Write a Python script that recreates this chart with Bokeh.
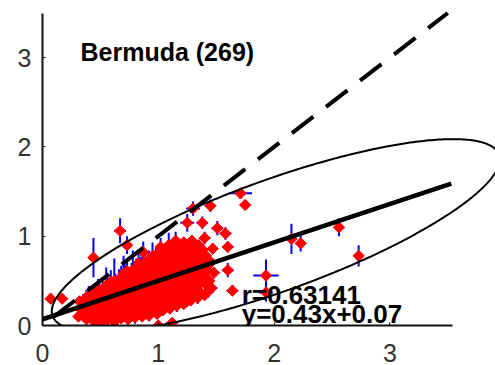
import numpy as np
from bokeh.plotting import figure
from bokeh.models import ColumnDataSource, Range1d, FixedTicker, Label
from bokeh.embed import file_html
from bokeh.resources import INLINE

# ---- summary values -------------------------------------------------------
site = "Bermuda"
n_obs = 269
r_value = 0.63141
slope = 0.43
intercept = 0.07
fit_x = [0.0, 3.53]          # extent of the fitted line
one_to_one = [0.0, 3.5]      # extent of the 1:1 line

x_ticks = [0, 1, 2, 3]
y_ticks = [0, 1, 2, 3]

# ---- isolated observations (x, y, errors) --------------------------------
out_x = [0.07, 0.17, 0.44, 0.67, 0.73, 0.87, 1.09, 1.25, 1.30, 1.38, 1.45, 1.51, 1.58, 1.60,
         1.71, 1.75, 1.48, 1.60, 1.64, 1.34, 1.93, 1.93, 2.15, 2.23, 2.56, 2.73, 0.99, 1.00, 1.12,
         0.55, 0.62, 0.70, 0.78, 0.83, 0.95, 0.40, 1.02, 1.15]
out_y = [0.30, 0.30, 0.76, 1.06, 0.90, 0.82, 0.90, 1.15, 1.31, 1.15, 1.34, 1.09, 1.03, 0.88,
         1.48, 1.35, 0.59, 0.62, 0.39, 0.50, 0.56, 0.37, 0.97, 0.92, 1.10, 0.78, 0.13, 0.00, 0.03,
         0.45, 0.50, 0.58, 0.62, 0.70, 0.78, 0.32, 0.88, 0.95]
out_xe = [0.03, 0.04, 0.03, 0.05, 0.04, 0.04, 0.06, 0.06, 0.06, 0.05, 0.05, 0.05, 0.05, 0.05,
          0.10, 0.04, 0.05, 0.05, 0.05, 0.04, 0.11, 0.06, 0.03, 0.04, 0.04, 0.04, 0.05, 0.05, 0.05,
          0.03, 0.03, 0.03, 0.03, 0.03, 0.04, 0.03, 0.04, 0.05]
out_ye = [0.06, 0.05, 0.22, 0.14, 0.10, 0.12, 0.14, 0.10, 0.08, 0.07, 0.07, 0.08, 0.07, 0.06,
          0.06, 0.05, 0.06, 0.08, 0.06, 0.06, 0.18, 0.10, 0.17, 0.09, 0.10, 0.12, 0.05, 0.04, 0.04,
          0.20, 0.25, 0.20, 0.22, 0.15, 0.15, 0.12, 0.10, 0.10]

# ---- dense cloud of observations (first pass) -----------------------------
blob_x = [0.31, 0.33, 0.32,
          0.38, 0.37, 0.39, 0.38,
          0.44, 0.45, 0.43, 0.44, 0.45,
          0.50, 0.49, 0.51, 0.50, 0.49,
          0.56, 0.57, 0.55, 0.56, 0.57, 0.56,
          0.62, 0.61, 0.63, 0.62, 0.61, 0.63,
          0.68, 0.69, 0.67, 0.68, 0.69, 0.67, 0.68,
          0.74, 0.73, 0.75, 0.74, 0.73, 0.75, 0.74, 0.73,
          0.80, 0.81, 0.79, 0.80, 0.81, 0.79, 0.80, 0.81,
          0.86, 0.85, 0.87, 0.86, 0.85, 0.87, 0.86, 0.85,
          0.92, 0.93, 0.91, 0.92, 0.93, 0.91, 0.92, 0.93, 0.92,
          0.98, 0.97, 0.99, 0.98, 0.97, 0.99, 0.98, 0.97, 0.98,
          1.04, 1.05, 1.03, 1.04, 1.05, 1.03, 1.04, 1.05, 1.04,
          1.10, 1.09, 1.11, 1.10, 1.09, 1.11, 1.10, 1.09, 1.10,
          1.16, 1.17, 1.15, 1.16, 1.17, 1.15, 1.16, 1.17, 1.16,
          1.22, 1.21, 1.23, 1.22, 1.21, 1.23, 1.22, 1.21, 1.22,
          1.28, 1.29, 1.27, 1.28, 1.29, 1.27, 1.28, 1.29,
          1.34, 1.33, 1.35, 1.34, 1.33, 1.35,
          1.40, 1.41, 1.39, 1.40, 1.41, 1.40,
          1.46, 1.45, 1.47]
blob_y = [0.10, 0.18, 0.27,
          0.07, 0.15, 0.23, 0.31,
          0.05, 0.13, 0.21, 0.29, 0.36,
          0.03, 0.12, 0.20, 0.28, 0.37,
          0.06, 0.14, 0.22, 0.30, 0.38, 0.44,
          0.04, 0.13, 0.21, 0.29, 0.37, 0.46,
          0.08, 0.16, 0.24, 0.32, 0.40, 0.48, 0.54,
          0.07, 0.15, 0.23, 0.31, 0.39, 0.47, 0.55, 0.61,
          0.09, 0.17, 0.25, 0.33, 0.41, 0.49, 0.57, 0.64,
          0.10, 0.18, 0.26, 0.34, 0.42, 0.50, 0.58, 0.67,
          0.11, 0.19, 0.27, 0.35, 0.43, 0.51, 0.59, 0.67, 0.74,
          0.15, 0.22, 0.30, 0.38, 0.46, 0.54, 0.62, 0.70, 0.79,
          0.17, 0.25, 0.33, 0.41, 0.49, 0.57, 0.65, 0.73, 0.83,
          0.19, 0.27, 0.35, 0.43, 0.51, 0.59, 0.67, 0.76, 0.86,
          0.22, 0.30, 0.38, 0.46, 0.54, 0.62, 0.70, 0.80, 0.90,
          0.24, 0.32, 0.40, 0.48, 0.56, 0.64, 0.72, 0.82, 0.93,
          0.28, 0.36, 0.44, 0.52, 0.60, 0.70, 0.80, 0.95,
          0.31, 0.40, 0.58, 0.68, 0.78, 0.90,
          0.34, 0.46, 0.56, 0.66, 0.78, 0.98,
          0.42, 0.70, 0.86]
blob_xe = [0.03, 0.04, 0.03,
           0.04, 0.03, 0.05, 0.03,
           0.03, 0.05, 0.04, 0.03, 0.04,
           0.04, 0.03, 0.05, 0.04, 0.03,
           0.05, 0.04, 0.03, 0.05, 0.04, 0.03,
           0.04, 0.05, 0.03, 0.04, 0.05, 0.03,
           0.03, 0.04, 0.05, 0.03, 0.04, 0.05, 0.03,
           0.05, 0.03, 0.04, 0.05, 0.03, 0.04, 0.05, 0.03,
           0.04, 0.05, 0.03, 0.04, 0.05, 0.03, 0.04, 0.05,
           0.03, 0.04, 0.05, 0.03, 0.04, 0.05, 0.03, 0.04,
           0.05, 0.03, 0.04, 0.05, 0.03, 0.04, 0.05, 0.03, 0.04,
           0.04, 0.05, 0.03, 0.04, 0.05, 0.03, 0.04, 0.05, 0.03,
           0.03, 0.04, 0.05, 0.03, 0.04, 0.05, 0.03, 0.04, 0.05,
           0.05, 0.03, 0.04, 0.05, 0.03, 0.04, 0.05, 0.03, 0.04,
           0.04, 0.05, 0.03, 0.04, 0.05, 0.03, 0.04, 0.05, 0.03,
           0.03, 0.04, 0.05, 0.03, 0.04, 0.05, 0.03, 0.04, 0.05,
           0.05, 0.03, 0.04, 0.05, 0.03, 0.04, 0.05, 0.03,
           0.04, 0.05, 0.03, 0.04, 0.05, 0.03,
           0.03, 0.04, 0.05, 0.03, 0.04, 0.05,
           0.05, 0.03, 0.04]
blob_ye = [0.05, 0.07, 0.06,
           0.06, 0.05, 0.08, 0.09,
           0.07, 0.06, 0.05, 0.08, 0.10,
           0.05, 0.07, 0.06, 0.09, 0.12,
           0.06, 0.05, 0.08, 0.07, 0.10, 0.14,
           0.07, 0.06, 0.05, 0.08, 0.09, 0.12,
           0.05, 0.08, 0.06, 0.07, 0.09, 0.10, 0.13,
           0.06, 0.07, 0.05, 0.08, 0.06, 0.09, 0.10, 0.12,
           0.07, 0.05, 0.08, 0.06, 0.07, 0.09, 0.08, 0.11,
           0.05, 0.06, 0.07, 0.08, 0.05, 0.09, 0.07, 0.10,
           0.06, 0.07, 0.05, 0.08, 0.06, 0.07, 0.09, 0.08, 0.10,
           0.07, 0.05, 0.06, 0.08, 0.07, 0.05, 0.09, 0.08, 0.09,
           0.05, 0.08, 0.06, 0.07, 0.05, 0.08, 0.06, 0.09, 0.08,
           0.06, 0.07, 0.05, 0.08, 0.06, 0.07, 0.09, 0.08, 0.07,
           0.07, 0.05, 0.08, 0.06, 0.07, 0.05, 0.08, 0.09, 0.08,
           0.05, 0.06, 0.07, 0.08, 0.05, 0.06, 0.09, 0.07, 0.06,
           0.06, 0.08, 0.05, 0.07, 0.06, 0.08, 0.07, 0.06,
           0.07, 0.05, 0.08, 0.06, 0.07, 0.06,
           0.05, 0.07, 0.06, 0.08, 0.06, 0.07,
           0.06, 0.07, 0.06]

# ---- dense cloud of observations (in-between points) ----------------------
fill_x = [0.35, 0.36, 0.35,
          0.41, 0.42, 0.41, 0.40,
          0.47, 0.48, 0.46, 0.47, 0.48,
          0.53, 0.52, 0.54, 0.53, 0.52,
          0.59, 0.60, 0.58, 0.59, 0.60, 0.59,
          0.65, 0.64, 0.66, 0.65, 0.64, 0.66,
          0.71, 0.72, 0.70, 0.71, 0.72, 0.70, 0.71,
          0.77, 0.76, 0.78, 0.77, 0.76, 0.78, 0.77,
          0.83, 0.84, 0.82, 0.83, 0.84, 0.82, 0.83,
          0.89, 0.88, 0.90, 0.89, 0.88, 0.90, 0.89, 0.88,
          0.95, 0.96, 0.94, 0.95, 0.96, 0.94, 0.95, 0.96,
          1.01, 1.00, 1.02, 1.01, 1.00, 1.02, 1.01, 1.00,
          1.07, 1.08, 1.06, 1.07, 1.08, 1.06, 1.07, 1.08,
          1.13, 1.12, 1.14, 1.13, 1.12, 1.14, 1.13, 1.12,
          1.19, 1.20, 1.18, 1.19, 1.20, 1.18, 1.19, 1.20,
          1.25, 1.24, 1.26, 1.25, 1.24, 1.26, 1.25, 1.24,
          1.31, 1.32, 1.30, 1.31, 1.32, 1.30, 1.31,
          1.37, 1.36, 1.38, 1.37, 1.36, 1.38,
          1.43, 1.44, 1.42, 1.43]
fill_y = [0.11, 0.19, 0.27,
          0.10, 0.18, 0.26, 0.34,
          0.08, 0.16, 0.24, 0.32, 0.40,
          0.07, 0.16, 0.24, 0.33, 0.41,
          0.09, 0.18, 0.26, 0.34, 0.42, 0.49,
          0.10, 0.17, 0.25, 0.33, 0.42, 0.51,
          0.11, 0.20, 0.28, 0.36, 0.44, 0.52, 0.58,
          0.11, 0.19, 0.27, 0.35, 0.43, 0.51, 0.58,
          0.13, 0.21, 0.29, 0.37, 0.45, 0.53, 0.61,
          0.14, 0.22, 0.30, 0.38, 0.46, 0.54, 0.63, 0.70,
          0.16, 0.23, 0.31, 0.39, 0.47, 0.55, 0.63, 0.72,
          0.19, 0.26, 0.34, 0.42, 0.50, 0.58, 0.66, 0.75,
          0.21, 0.29, 0.37, 0.45, 0.53, 0.61, 0.69, 0.79,
          0.23, 0.31, 0.39, 0.47, 0.55, 0.63, 0.72, 0.82,
          0.26, 0.34, 0.42, 0.50, 0.58, 0.67, 0.76, 0.86,
          0.28, 0.36, 0.44, 0.52, 0.60, 0.68, 0.77, 0.88,
          0.32, 0.41, 0.49, 0.56, 0.64, 0.74, 0.85,
          0.36, 0.47, 0.54, 0.63, 0.72, 0.85,
          0.38, 0.50, 0.62, 0.74]
fill_xe = [0.04, 0.03, 0.05,
           0.03, 0.04, 0.03, 0.05,
           0.04, 0.03, 0.05, 0.04, 0.03,
           0.05, 0.04, 0.03, 0.05, 0.04,
           0.03, 0.05, 0.04, 0.03, 0.05, 0.04,
           0.04, 0.03, 0.05, 0.04, 0.03, 0.05,
           0.05, 0.04, 0.03, 0.05, 0.04, 0.03, 0.05,
           0.03, 0.05, 0.04, 0.03, 0.05, 0.04, 0.03,
           0.04, 0.03, 0.05, 0.04, 0.03, 0.05, 0.04,
           0.05, 0.04, 0.03, 0.05, 0.04, 0.03, 0.05, 0.04,
           0.03, 0.05, 0.04, 0.03, 0.05, 0.04, 0.03, 0.05,
           0.04, 0.03, 0.05, 0.04, 0.03, 0.05, 0.04, 0.03,
           0.05, 0.04, 0.03, 0.05, 0.04, 0.03, 0.05, 0.04,
           0.03, 0.05, 0.04, 0.03, 0.05, 0.04, 0.03, 0.05,
           0.04, 0.03, 0.05, 0.04, 0.03, 0.05, 0.04, 0.03,
           0.05, 0.04, 0.03, 0.05, 0.04, 0.03, 0.05, 0.04,
           0.03, 0.05, 0.04, 0.03, 0.05, 0.04, 0.03,
           0.04, 0.03, 0.05, 0.04, 0.03, 0.05,
           0.05, 0.04, 0.03, 0.05]
fill_ye = [0.06, 0.05, 0.08,
           0.05, 0.07, 0.06, 0.10,
           0.06, 0.05, 0.07, 0.08, 0.12,
           0.07, 0.06, 0.05, 0.08, 0.11,
           0.05, 0.07, 0.06, 0.08, 0.09, 0.13,
           0.06, 0.08, 0.05, 0.07, 0.10, 0.12,
           0.07, 0.05, 0.08, 0.06, 0.07, 0.09, 0.11,
           0.05, 0.06, 0.07, 0.08, 0.06, 0.09, 0.12,
           0.06, 0.07, 0.05, 0.08, 0.07, 0.06, 0.10,
           0.07, 0.05, 0.06, 0.08, 0.07, 0.05, 0.09, 0.10,
           0.05, 0.08, 0.06, 0.07, 0.05, 0.08, 0.06, 0.09,
           0.06, 0.07, 0.05, 0.08, 0.06, 0.07, 0.09, 0.08,
           0.07, 0.05, 0.08, 0.06, 0.07, 0.05, 0.08, 0.09,
           0.05, 0.06, 0.07, 0.08, 0.05, 0.06, 0.09, 0.07,
           0.06, 0.08, 0.05, 0.07, 0.06, 0.08, 0.07, 0.08,
           0.07, 0.05, 0.06, 0.08, 0.07, 0.05, 0.09, 0.08,
           0.05, 0.07, 0.06, 0.08, 0.06, 0.07, 0.08,
           0.06, 0.05, 0.07, 0.06, 0.08, 0.07,
           0.07, 0.06, 0.05, 0.07]

# ---- confidence ellipse (data units) --------------------------------------
ell_cx, ell_cy = 2.015, 1.01   # centre
ell_hx = 1.935                 # half extent along x
ell_hy = 0.66                  # half vertical chord through the centre
ell_m = 0.44                   # slope of the conjugate diameter

# ---------------------------------------------------------------------------
xs = np.array(blob_x + fill_x + out_x)
ys = np.array(blob_y + fill_y + out_y)
xe = np.array(blob_xe + fill_xe + out_xe)
ye = np.array(blob_ye + fill_ye + out_ye)
assert len(xs) == len(ys) == len(xe) == len(ye)

src = ColumnDataSource(dict(x=xs, y=ys, xl=xs - xe, xr=xs + xe, yb=ys - ye, yt=ys + ye))

p = figure(width=495, height=365,
           x_range=Range1d(0, 3.912), y_range=Range1d(0, 3.64),
           output_backend="svg", toolbar_location=None,
           min_border_left=42, min_border_right=0,
           min_border_top=0, min_border_bottom=40)
p.outline_line_color = None
p.grid.visible = False
p.background_fill_color = "white"
p.border_fill_color = "white"

for ax, ticks, bounds in ((p.xaxis[0], x_ticks, (0, 3.54)), (p.yaxis[0], y_ticks, (0, 3.5))):
    ax.ticker = FixedTicker(ticks=ticks)
    ax.bounds = bounds
    ax.axis_line_width = 2
    ax.axis_line_color = "#111111"
    ax.major_tick_in = 3
    ax.major_tick_out = 0
    ax.major_tick_line_color = "#111111"
    ax.minor_tick_line_color = None
    ax.major_label_text_font = "Liberation Sans"
    ax.major_label_text_font_size = "25px"
    ax.major_label_text_color = "#333333"
p.xaxis.major_label_standoff = 18
p.yaxis.major_label_standoff = 11

# error bars
p.segment(x0="xl", y0="y", x1="xr", y1="y", source=src, line_color="#0000ff", line_width=2)
p.segment(x0="x", y0="yb", x1="x", y1="yt", source=src, line_color="#0000ff", line_width=2)
# observations
p.scatter(x="x", y="y", source=src, marker="square", size=8, angle=np.pi / 4,
          fill_color="#ff0000", line_color="#ff0000", line_width=1)

# 1:1 line
p.line(one_to_one, one_to_one, line_color="black", line_width=4,
       line_dash="27 16", line_dash_offset=29)
# fitted line
fx = np.array(fit_x)
p.line(fx, slope * fx + intercept, line_color="black", line_width=4.5)

# ellipse
t = np.linspace(0, 2 * np.pi, 400)
ex = ell_cx + ell_hx * np.cos(t)
ey = ell_cy + ell_m * ell_hx * np.cos(t) + ell_hy * np.sin(t)
p.line(ex, ey, line_color="black", line_width=2)

p.add_layout(Label(x=0.328, y=3.06, text=f"{site} ({n_obs})", text_font="Liberation Sans",
                   text_font_style="bold", text_font_size="25px", text_color="black",
                   text_baseline="alphabetic"))
p.add_layout(Label(x=1.72, y=0.34, text=f"r={r_value}", text_font="Liberation Sans",
                   text_font_style="bold", text_font_size="26px", text_color="black",
                   text_baseline="alphabetic"))
p.add_layout(Label(x=1.72, y=0.128, text=f"y={slope}x+{intercept}", text_font="Liberation Sans",
                   text_font_style="bold", text_font_size="26px", text_color="black",
                   text_baseline="alphabetic"))

open("out.html", "w").write(file_html(p, INLINE))
